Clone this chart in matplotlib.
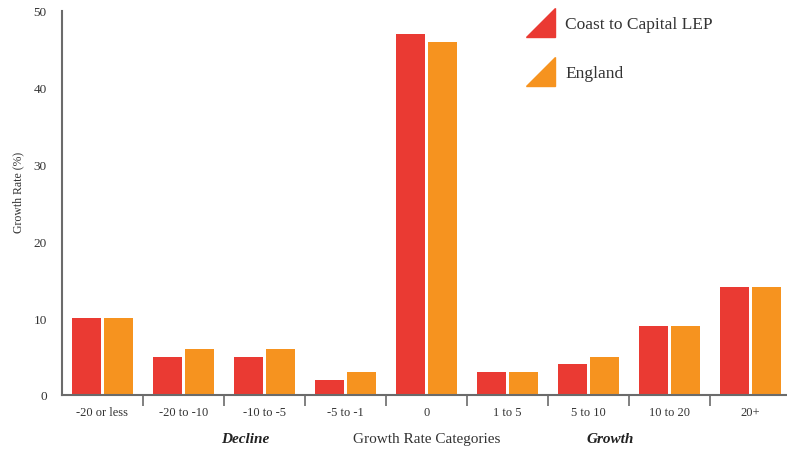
import numpy as np
import matplotlib.pyplot as plt
from matplotlib.patches import Polygon

categories = ['-20 or less', '-20 to -10', '-10 to -5', '-5 to -1', '0',
              '1 to 5', '5 to 10', '10 to 20', '20+']
coast_to_capital = [10, 5, 5, 2, 47, 3, 4, 9, 14]
england = [10, 6, 6, 3, 46, 3, 5, 9, 14]
series_names = ['Coast to Capital LEP', 'England']

red = '#ea3a33'
orange = '#f6931f'
grey = '#6b6b6b'

plt.rcParams['font.family'] = ['Liberation Serif', 'DejaVu Serif']

fig = plt.figure(figsize=(7.87, 4.52), dpi=100)
ax = fig.add_axes([62/787, 56/452, 725/787, 384/452])

x = np.arange(len(categories))
w = 0.36
ax.bar(x - 0.2, coast_to_capital, width=w, color=red, zorder=2)
ax.bar(x + 0.2, england, width=w, color=orange, zorder=2)

ax.set_xlim(-0.5, -0.5 + 725/81)
ax.set_ylim(0, 50)
ax.set_yticks([0, 10, 20, 30, 40, 50])
ax.tick_params(axis='y', length=0, labelsize=9.5, colors='#333333', pad=11)
ax.set_xticks(x)
ax.set_xticklabels(categories, fontsize=9, color='#333333')
ax.tick_params(axis='x', length=0, pad=8)
# boundary ticks between categories
ax.set_xticks(np.arange(0.5, len(categories) - 0.5), minor=True)
ax.tick_params(axis='x', which='minor', length=8, width=1.2, color=grey, direction='out')

for s in ['top', 'right']:
    ax.spines[s].set_visible(False)
for s in ['left', 'bottom']:
    ax.spines[s].set_color(grey)
    ax.spines[s].set_linewidth(1.5)

ax.set_ylabel('Growth Rate (%)', fontsize=8.5, color='#333333')
ax.yaxis.set_label_coords(-(62 - 24) / 725, 0.53)

fig.text(245/787, 1 - 440/452, 'Decline', fontsize=11, fontweight='bold',
         fontstyle='italic', ha='center', va='center', color='#222222')
fig.text(427/787, 1 - 440/452, 'Growth Rate Categories', fontsize=11,
         ha='center', va='center', color='#333333')
fig.text(610/787, 1 - 440/452, 'Growth', fontsize=11, fontweight='bold',
         fontstyle='italic', ha='center', va='center', color='#222222')

# legend with triangle swatches
for i, (name, col) in enumerate(zip(series_names, [red, orange])):
    y0 = 38 + i * 49
    tri = [(526/787, 1 - y0/452), (555/787, 1 - y0/452), (555/787, 1 - (y0 - 29)/452)]
    fig.patches.append(Polygon(tri, closed=True, color=col, transform=fig.transFigure))
    fig.text(565/787, 1 - (y0 - 13)/452, name, fontsize=12.5, va='center',
             color='#333333')

fig.savefig('out.png', dpi=100)
